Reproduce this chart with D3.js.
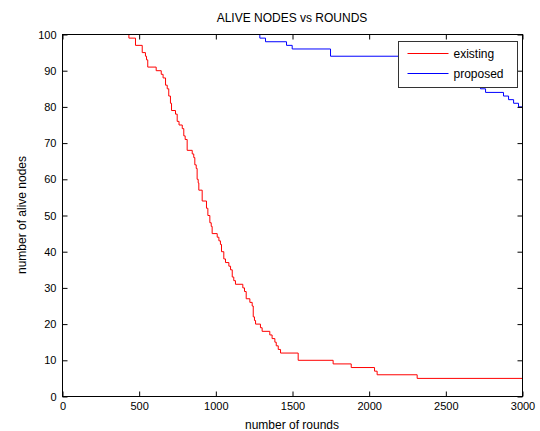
<!DOCTYPE html>
<html>
<head>
<meta charset="utf-8">
<script src="https://cdn.jsdelivr.net/npm/d3@7"></script>
<style>
  html, body { margin: 0; padding: 0; background: #fff; }
  svg text { font-family: "Liberation Sans", Arial, sans-serif; fill: #000; }
</style>
</head>
<body>
<div id="chart"></div>
<script>
// step points: round at which the alive count changes, and the new count
const existingRounds = [0, 433, 476, 520, 541, 548, 556, 611, 644, 656, 672, 683, 693, 704, 711, 737, 748, 760, 781, 791, 800, 813, 846, 856, 863, 872, 878, 885, 889, 911, 939, 948, 961, 970, 976, 1009, 1020, 1030, 1037, 1052, 1063, 1085, 1096, 1107, 1117, 1128, 1176, 1187, 1198, 1222, 1237, 1244, 1252, 1259, 1291, 1302, 1352, 1367, 1385, 1394, 1407, 1422, 1537, 1765, 1883, 2035, 2052, 2313, 3000];
const existingAlive  = [100, 99, 97, 95, 94, 93, 91, 90, 89, 88, 86, 85, 83, 81, 79, 78, 76, 75, 74, 72, 71, 68, 67, 66, 64, 63, 60, 59, 57, 54, 52, 50, 48, 47, 45, 44, 43, 42, 40, 38, 37, 36, 35, 33, 32, 31, 30, 29, 27, 26, 25, 22, 21, 20, 19, 18, 17, 16, 15, 14, 13, 12, 10, 9, 8, 7, 6, 5, 5];

const proposedRounds = [0, 1287, 1324, 1461, 1498, 1748, 2400, 2650, 2726, 2759, 2876, 2909, 2942, 2974, 3000];
const proposedAlive  = [100, 99, 98, 97, 96, 94, 91, 87, 85, 84, 83, 82, 81, 80, 80];

const xTicks = [0, 500, 1000, 1500, 2000, 2500, 3000];
const yTicks = [0, 10, 20, 30, 40, 50, 60, 70, 80, 90, 100];

const series = [
  { name: "existing", color: "#ff0000", rounds: existingRounds, alive: existingAlive },
  { name: "proposed", color: "#0000ff", rounds: proposedRounds, alive: proposedAlive }
];

const W = 540, H = 431;
const PLOT = { left: 62, right: 522, top: 34, bottom: 396 };

const svg = d3.select("#chart").append("svg")
  .attr("width", W)
  .attr("height", H);

const x = d3.scaleLinear().domain([0, 3000]).range([PLOT.left, PLOT.right]);
const y = d3.scaleLinear().domain([0, 100]).range([PLOT.bottom, PLOT.top]);

// ── Lines ──
const line = d3.line()
  .x(d => x(d[0]))
  .y(d => y(d[1]))
  .curve(d3.curveStepAfter);

svg.selectAll("path.series")
  .data(series)
  .join("path")
  .attr("class", "series")
  .attr("fill", "none")
  .attr("stroke", d => d.color)
  .attr("stroke-width", 1)
  .attr("transform", "translate(0.5,0.5)")
  .attr("d", d => line(d.rounds.map((r, i) => [r, d.alive[i]])));

// ── Axes (ticks point inward, MATLAB style) ──
const axisFont = g => g.selectAll("text").style("font-size", "11px").style("font-family", "\"Liberation Sans\", Arial, sans-serif");

svg.append("g")
  .attr("transform", `translate(0.5,${PLOT.bottom + 0.5})`)
  .call(d3.axisBottom(x).tickValues(xTicks).tickFormat(d3.format("d"))
    .tickSizeInner(-5).tickSizeOuter(0).tickPadding(6))
  .call(axisFont)
  .call(g => g.select(".domain").remove());

svg.append("g")
  .attr("transform", `translate(0.5,${PLOT.top + 0.5})`)
  .call(d3.axisTop(x).tickValues(xTicks).tickSizeInner(-5).tickSizeOuter(0).tickFormat(""))
  .call(g => g.select(".domain").remove());

svg.append("g")
  .attr("transform", `translate(${PLOT.left + 0.5},0.5)`)
  .call(d3.axisLeft(y).tickValues(yTicks).tickFormat(d3.format("d"))
    .tickSizeInner(-5).tickSizeOuter(0).tickPadding(6))
  .call(axisFont)
  .call(g => g.select(".domain").remove());

svg.append("g")
  .attr("transform", `translate(${PLOT.right + 0.5},0.5)`)
  .call(d3.axisRight(y).tickValues(yTicks).tickSizeInner(-5).tickSizeOuter(0).tickFormat(""))
  .call(g => g.select(".domain").remove());

// frame on top of the lines
svg.append("rect")
  .attr("x", PLOT.left + 0.5)
  .attr("y", PLOT.top + 0.5)
  .attr("width", PLOT.right - PLOT.left)
  .attr("height", PLOT.bottom - PLOT.top)
  .attr("fill", "none")
  .attr("stroke", "#000")
  .attr("stroke-width", 1);

// ── Titles ──
const midX = (PLOT.left + PLOT.right) / 2;

svg.append("text")
  .attr("x", midX)
  .attr("y", 22)
  .style("font-size", "12px")
  .style("text-anchor", "middle")
  .text("ALIVE NODES vs ROUNDS");

svg.append("text")
  .attr("x", midX)
  .attr("y", 429)
  .style("font-size", "12px")
  .style("text-anchor", "middle")
  .text("number of rounds");

svg.append("text")
  .attr("transform", `translate(26,${(PLOT.top + PLOT.bottom) / 2}) rotate(-90)`)
  .style("font-size", "12px")
  .style("text-anchor", "middle")
  .text("number of alive nodes");

// ── Legend ──
const LEG = { x: 398, y: 41, w: 119, h: 46 };
const leg = svg.append("g").attr("transform", `translate(${LEG.x + 0.5},${LEG.y + 0.5})`);

leg.append("rect")
  .attr("width", LEG.w)
  .attr("height", LEG.h)
  .attr("fill", "#fff")
  .attr("stroke", "#333")
  .attr("stroke-width", 1);

const legRow = leg.selectAll("g.row")
  .data(series)
  .join("g")
  .attr("class", "row")
  .attr("transform", (_, i) => `translate(0,${12 + i * 20})`);

legRow.append("line")
  .attr("x1", 9).attr("x2", 50)
  .attr("y1", 0).attr("y2", 0)
  .attr("stroke", d => d.color)
  .attr("stroke-width", 1);

legRow.append("text")
  .attr("x", 55)
  .attr("y", 0)
  .attr("dy", "0.35em")
  .style("font-size", "12px")
  .text(d => d.name);
</script>
</body>
</html>
